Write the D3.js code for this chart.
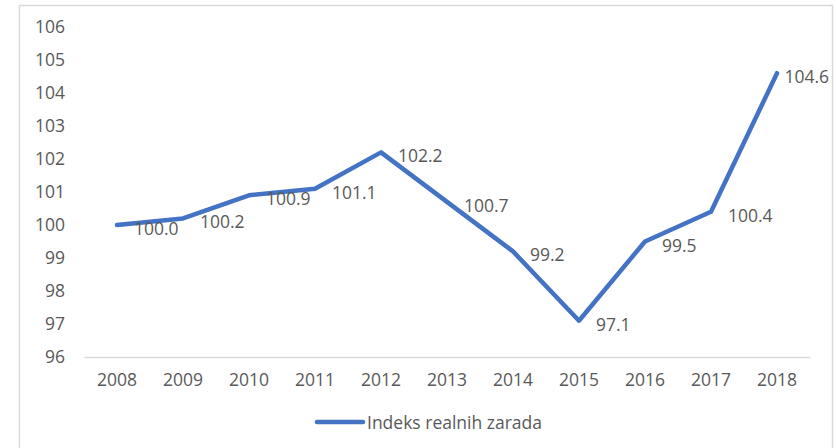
<!DOCTYPE html>
<html>
<head>
<meta charset="utf-8">
<script src="https://cdn.jsdelivr.net/npm/d3@7"></script>
<style>
  html, body { margin: 0; padding: 0; background: #fff; }
  svg { display: block; }
  text { font-family: "Open Sans", "Noto Sans", sans-serif; fill: #595959; }
</style>
</head>
<body>
<svg id="chart" width="836" height="448"></svg>
<script>
// Index of real wages, 2008 = 100
const years = ["2008", "2009", "2010", "2011", "2012", "2013", "2014", "2015", "2016", "2017", "2018"];
const realWageIndex = [100.0, 100.2, 100.9, 101.1, 102.2, 100.7, 99.2, 97.1, 99.5, 100.4, 104.6];
const yTicks = [96, 97, 98, 99, 100, 101, 102, 103, 104, 105, 106];
const seriesName = "Indeks realnih zarada";

const svg = d3.select("#chart");
const FONT = 17.5;

// outer chart frame
svg.append("rect")
  .attr("x", 19.5).attr("y", 5.5)
  .attr("width", 813).attr("height", 460)
  .attr("fill", "#fff")
  .attr("stroke", "#d9d9d9")
  .attr("stroke-width", 1.5);

const plot = { left: 84, right: 810, top: 27, bottom: 357 };

const x = d3.scaleBand()
  .domain(years)
  .range([plot.left, plot.right]);

const y = d3.scaleLinear()
  .domain([96, 106])
  .range([plot.bottom, plot.top]);

const cx = d => x(d) + x.bandwidth() / 2;

// y axis labels
const yAxis = d3.axisLeft(y).tickValues(yTicks).tickSize(0).tickPadding(0).tickFormat(d3.format("d"));
const gy = svg.append("g")
  .attr("transform", `translate(${plot.left - 19},0)`)
  .call(yAxis);
gy.select(".domain").remove();
gy.selectAll("text")
  .attr("font-size", FONT)
  .attr("fill", "#595959")
  .style("font-family", '"Open Sans", "Noto Sans", sans-serif');

// x axis baseline and labels
const xAxis = d3.axisBottom(x).tickSize(0).tickPadding(17);
const gx = svg.append("g")
  .attr("transform", `translate(0,${plot.bottom})`)
  .call(xAxis);
gx.select(".domain").attr("stroke", "#d9d9d9").attr("stroke-width", 1.5);
gx.selectAll("text")
  .attr("font-size", FONT)
  .attr("fill", "#595959")
  .style("font-family", '"Open Sans", "Noto Sans", sans-serif');

// series line
const line = d3.line()
  .x((d, i) => cx(years[i]))
  .y(d => y(d));

svg.append("path")
  .datum(realWageIndex)
  .attr("d", line)
  .attr("fill", "none")
  .attr("stroke", "#4472C4")
  .attr("stroke-width", 4.5)
  .attr("stroke-linejoin", "round")
  .attr("stroke-linecap", "round");

// data labels to the right of each point, kept inside the frame
const rightLimit = 829;
const labels = svg.append("g");
realWageIndex.forEach((v, i) => {
  const px = cx(years[i]), py = y(v);
  const t = labels.append("text")
    .attr("font-size", FONT)
    .attr("dominant-baseline", "central")
    .attr("y", py + 3)
    .text(d3.format(".1f")(v));
  const w = t.node().getComputedTextLength();
  t.attr("x", Math.min(px + 17, rightLimit - w));
});

// legend
const lg = svg.append("g").attr("transform", "translate(317,422)");
lg.append("line")
  .attr("x1", 0).attr("x2", 46)
  .attr("y1", 0).attr("y2", 0)
  .attr("stroke", "#4472C4")
  .attr("stroke-width", 4.5)
  .attr("stroke-linecap", "round");
lg.append("text")
  .attr("x", 50).attr("y", 0)
  .attr("dominant-baseline", "central")
  .attr("font-size", FONT)
  .text(seriesName);
</script>
</body>
</html>
